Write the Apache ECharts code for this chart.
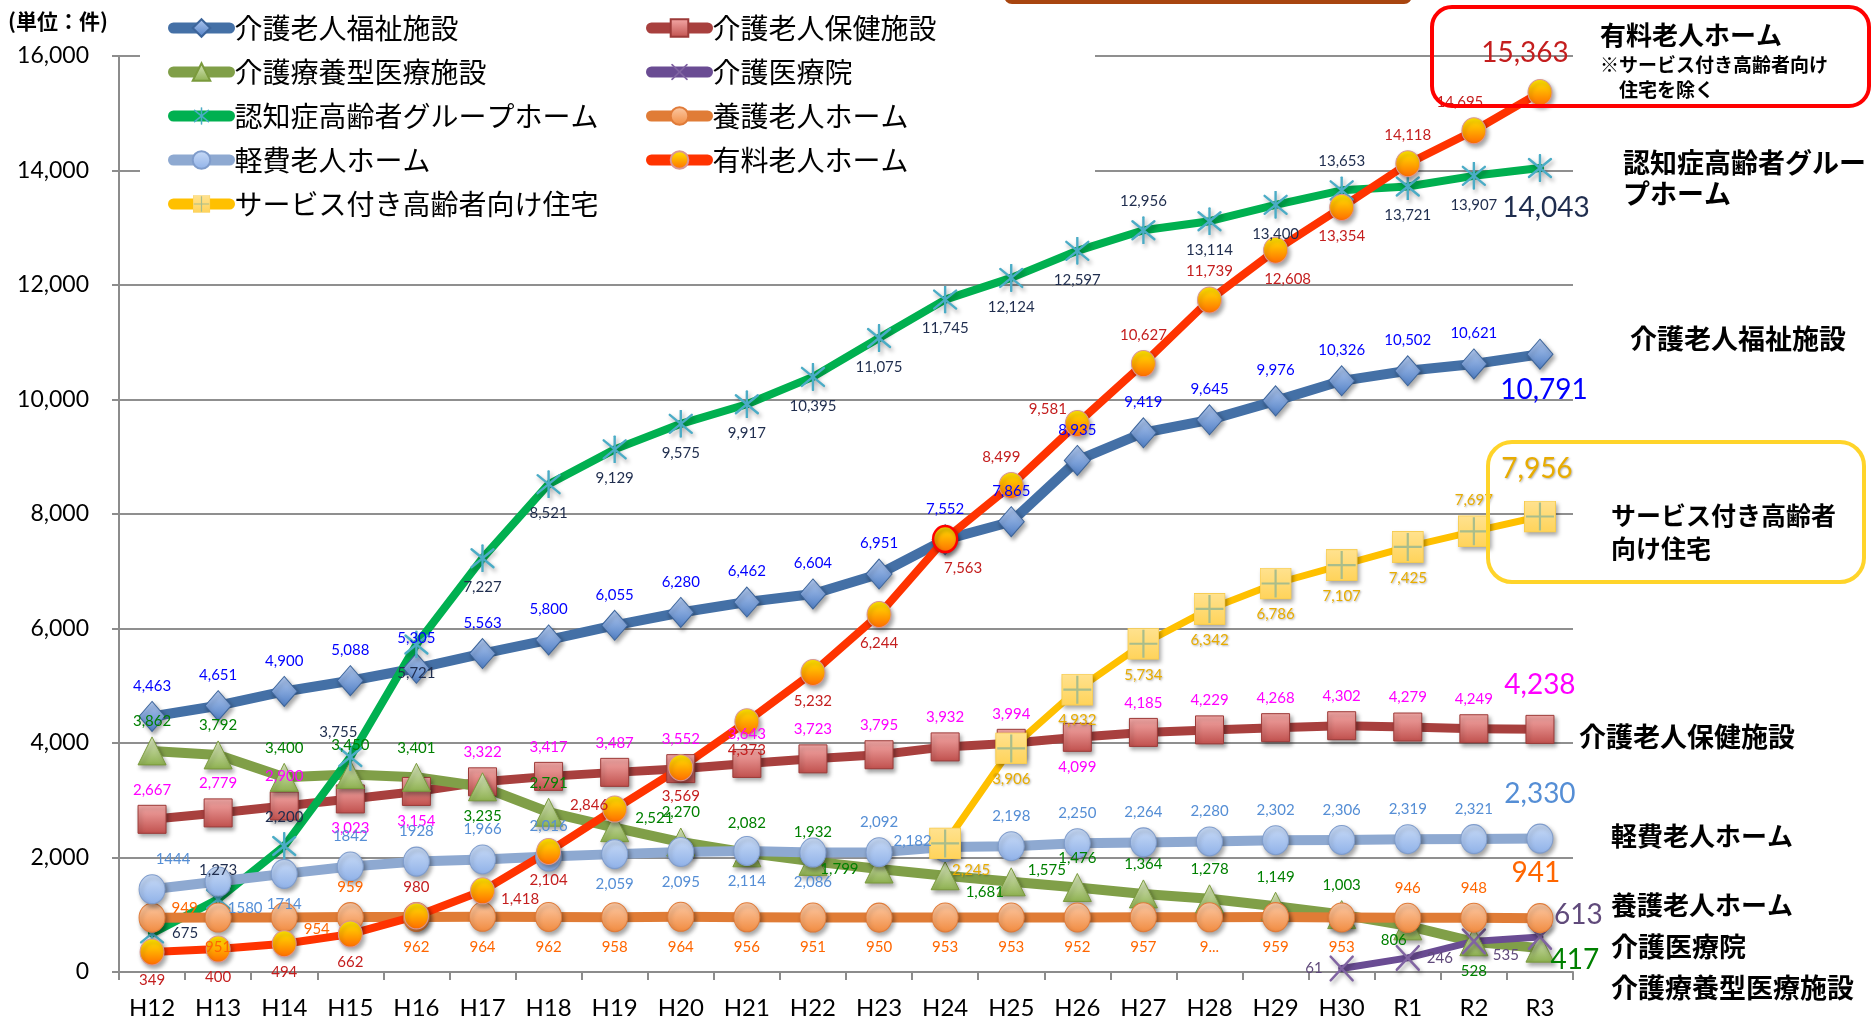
<!DOCTYPE html>
<html>
<head>
<meta charset="utf-8">
<script src="https://cdn.jsdelivr.net/npm/echarts@6/dist/echarts.min.js"></script>
<style>
  html, body { margin: 0; padding: 0; background: #ffffff; }
  #chart { width: 1873px; height: 1026px; }
</style>
</head>
<body>
<div id="chart"></div>
<script>
// ---- data (件) ----
const years = ['H12','H13','H14','H15','H16','H17','H18','H19','H20','H21','H22',
               'H23','H24','H25','H26','H27','H28','H29','H30','R1','R2','R3'];

const yTicks = [0, 2000, 4000, 6000, 8000, 10000, 12000, 14000, 16000];

// 介護老人福祉施設
const fukushi = [4463, 4651, 4900, 5088, 5305, 5563, 5800, 6055, 6280, 6462, 6604,
                 6951, 7552, 7865, 8935, 9419, 9645, 9976, 10326, 10502, 10621, 10791];
// 介護老人保健施設
const roken = [2667, 2779, 2900, 3023, 3154, 3322, 3417, 3487, 3552, 3643, 3723,
               3795, 3932, 3994, 4099, 4185, 4229, 4268, 4302, 4279, 4249, 4238];
// 介護療養型医療施設
const ryoyo = [3862, 3792, 3400, 3450, 3401, 3235, 2791, 2521, 2270, 2082, 1932,
               1799, 1681, 1575, 1476, 1364, 1278, 1149, 1003, 806, 528, 417];
// 介護医療院
const iryoin = [null, null, null, null, null, null, null, null, null, null, null,
                null, null, null, null, null, null, null, 61, 246, 535, 613];
// 認知症高齢者グループホーム
const groupHome = [675, 1273, 2200, 3755, 5721, 7227, 8521, 9129, 9575, 9917, 10395,
                   11075, 11745, 12124, 12597, 12956, 13114, 13400, 13653, 13721, 13907, 14043];
// 養護老人ホーム
const yogo = [949, 951, 954, 959, 962, 964, 962, 958, 964, 956, 951,
              950, 953, 953, 952, 957, 955, 959, 953, 946, 948, 941];
// 軽費老人ホーム
const keihi = [1444, 1580, 1714, 1842, 1928, 1966, 2016, 2059, 2095, 2114, 2086,
               2092, 2182, 2198, 2250, 2264, 2280, 2302, 2306, 2319, 2321, 2330];
// 有料老人ホーム
const yuryo = [349, 400, 494, 662, 980, 1418, 2104, 2846, 3569, 4373, 5232,
               6244, 7563, 8499, 9581, 10627, 11739, 12608, 13354, 14118, 14695, 15363];
// サービス付き高齢者向け住宅
const sakoju = [null, null, null, null, null, null, null, null, null, null, null,
                null, 2245, 3906, 4932, 5734, 6342, 6786, 7107, 7425, 7697, 7956];

// ---- label placement per point: T=top B=bottom L=left R=right ----
const POS = { T: 'top', B: 'bottom', L: 'left', R: 'right' };
const labelPlace = {
  fukushi: 'TTTTTTTTTTTTTTTTTTTTTB',
  roken:   'TTTBBTTTTTTTTTBTTTTTTT',
  ryoyo:   'TTTTTBTRTTTLRRTTTTTBBR',
  iryoin:  '------------------LRRR',
  gh:      'RTTTBBBBBBBBBBBTBBTBBB',
  yogo:    'RBRTBBBBBBBBBBBBBBBTTT',
  keihi:   'TBBTTTTBBBBTLTTTTTTTTT',
  yuryo:   'BBBBTRBLBBBBBTLTTBBTTT',
  sakoju:  '------------BBBBBBBBTT'
};
// small nudges [dx, dy] in px
const labelShift = {
  fukushi: { 21: [4, -6] },
  roken:   { 21: [0, -4] },
  ryoyo:   { 7: [0, -10], 12: [0, 16], 13: [-4, -12], 19: [-14, -15], 21: [-13, 12] },
  iryoin:  { 20: [0, 14], 21: [-8, -22] },
  gh:      { 3: [-12, 4], 21: [6, 0] },
  yogo:    { 0: [0, -10], 2: [0, 12], 21: [-4, -4] },
  keihi:   { 0: [21, 0], 1: [27, -3], 12: [6, -6], 21: [0, -4] },
  yuryo:   { 5: [0, 8], 7: [12, -4], 12: [18, 0], 13: [-10, 0], 14: [8, -14], 17: [12, 0], 20: [-14, 0], 21: [-15, 0] },
  sakoju:  { 12: [26, -4], 21: [-3, -6] }
};

const fmt = v => v.toLocaleString('en-US');
// a few label texts are printed differently in the source table
const labelText = {
  keihi: i => (i <= 4 ? String(keihi[i]) : null),
  yogo: i => (i === 16 ? '9...' : null)
};

function vgrad(top, bottom) {
  return new echarts.graphic.LinearGradient(0, 0, 0, 1, [
    { offset: 0, color: top }, { offset: 1, color: bottom }
  ]);
}
function svgSymbol(svg) {
  return 'image://data:image/svg+xml;charset=utf-8,' + encodeURIComponent(svg);
}
const ELLIPSE = 'path://M0,5a5,5 0 1,0 10,0a5,5 0 1,0 -10,0z';
const ASTERISK = svgSymbol(
  '<svg xmlns="http://www.w3.org/2000/svg" width="28" height="28" viewBox="0 0 28 28">' +
  '<g stroke="#4BACC6" stroke-width="2.4" stroke-linecap="round">' +
  '<line x1="14" y1="1" x2="14" y2="27"/><line x1="3" y1="5" x2="25" y2="23"/>' +
  '<line x1="25" y1="5" x2="3" y2="23"/></g></svg>');
const XMARK = svgSymbol(
  '<svg xmlns="http://www.w3.org/2000/svg" width="26" height="26" viewBox="0 0 26 26">' +
  '<g stroke="#8064A2" stroke-width="2.4" stroke-linecap="round">' +
  '<line x1="2" y1="2" x2="24" y2="24"/><line x1="24" y1="2" x2="2" y2="24"/></g></svg>');
const PLUSBOX = svgSymbol(
  '<svg xmlns="http://www.w3.org/2000/svg" width="32" height="32" viewBox="0 0 32 32">' +
  '<defs><linearGradient id="g" x1="0" y1="0" x2="0" y2="1">' +
  '<stop offset="0" stop-color="#FFE28F"/><stop offset="1" stop-color="#FFD35A"/></linearGradient></defs>' +
  '<rect x="0.5" y="0.5" width="31" height="31" fill="url(#g)" stroke="#F6CB4E"/>' +
  '<path d="M16 2V30M2 16H30" stroke="#A9BD8B" stroke-width="2.2"/></svg>');

const markerShadow = { shadowColor: 'rgba(0,0,0,0.35)', shadowBlur: 4, shadowOffsetX: 2, shadowOffsetY: 3 };

const seriesDefs = [
  { key: 'fukushi', name: '介護老人福祉施設', values: fukushi, line: '#4470A6', width: 10,
    symbol: 'diamond', size: [26, 30], fill: vgrad('#B3CAF0', '#4F7EC4'), border: '#3C649A', text: '#0000FF' },
  { key: 'roken', name: '介護老人保健施設', values: roken, line: '#A8403E', width: 9,
    symbol: 'rect', size: [28, 28], fill: vgrad('#F5ABA9', '#C0504D'), border: '#9C3A38', text: '#FF00FF' },
  { key: 'ryoyo', name: '介護療養型医療施設', values: ryoyo, line: '#809F48', width: 10,
    symbol: 'triangle', size: [28, 28], fill: vgrad('#DCE8C4', '#8DB04F'), border: '#7A9A3C', text: '#008000' },
  { key: 'iryoin', name: '介護医療院', values: iryoin, line: '#6A4C93', width: 7,
    symbol: XMARK, size: [26, 28], fill: '#8064A2', border: null, text: '#604A7B' },
  { key: 'gh', name: '認知症高齢者グループホーム', values: groupHome, line: '#00B050', width: 8,
    symbol: ASTERISK, size: [28, 28], fill: '#4BACC6', border: null, text: '#1F2D4E' },
  { key: 'yogo', name: '養護老人ホーム', values: yogo, line: '#E07C36', width: 10,
    symbol: ELLIPSE, size: [26, 29], fill: vgrad('#FCCBA8', '#F18B40'), border: '#E07B39', text: '#FF6600' },
  { key: 'keihi', name: '軽費老人ホーム', values: keihi, line: '#8EA9D1', width: 10,
    symbol: ELLIPSE, size: [26, 29], fill: vgrad('#CADCF7', '#8FB1E8'), border: '#7F9CCB', text: '#558ED5' },
  { key: 'yuryo', name: '有料老人ホーム', values: yuryo, line: '#FF3300', width: 8,
    symbol: ELLIPSE, size: [24, 26], fill: vgrad('#FFEA00', '#FF6A00'), border: '#D99694', text: '#C41E1E' },
  { key: 'sakoju', name: 'サービス付き高齢者向け住宅', values: sakoju, line: '#FFC000', width: 7,
    symbol: PLUSBOX, size: [32, 32], fill: '#FFD966', border: null, text: '#E8AC00', shadowText: true }
];

// Move a label by [dx, dy]. Along the placement direction the shift goes into
// `distance`; sideways it is done with padding (horizontal) or with a
// top-anchored text block plus top padding (vertical).
function placeLabel(label, pos, shift, base, lineH) {
  const dx = shift ? shift[0] : 0;
  const dy = shift ? shift[1] : 0;
  const pad = [0, 0, 0, 0];
  let distance = base;
  if (pos === 'top' || pos === 'bottom') {
    distance = pos === 'top' ? base - dy : base + dy;
    if (dx > 0) pad[3] = 2 * dx; else if (dx < 0) pad[1] = -2 * dx;
  } else {
    distance = pos === 'right' ? base + dx : base - dx;
    if (dy !== 0) {
      label.verticalAlign = 'top';
      pad[0] = dy - lineH / 2;
    }
  }
  label.position = pos;
  label.distance = distance;
  label.lineHeight = lineH;
  label.padding = pad;
}

function buildData(def) {
  const place = labelPlace[def.key];
  const shifts = labelShift[def.key] || {};
  const last = def.values.length - 1;
  return def.values.map((v, i) => {
    if (v === null) return '-';
    const custom = labelText[def.key] ? labelText[def.key](i) : null;
    const label = { formatter: custom !== null ? custom : fmt(v) };
    const isLast = i === last;
    placeLabel(label, POS[place[i]], shifts[i], isLast ? 9 : 6, isLast ? 34 : 18);
    if (isLast) label.fontSize = 28;
    const item = { value: v, label: label };
    if (def.key === 'yuryo' && i === 12) {
      item.itemStyle = { borderColor: '#FF0000', borderWidth: 2.5 };
    }
    return item;
  });
}

const series = seriesDefs.map(def => ({
  name: def.name,
  type: 'line',
  data: buildData(def),
  symbol: def.symbol,
  symbolSize: def.size,
  showAllSymbol: true,
  connectNulls: false,
  lineStyle: { color: def.line, width: def.width, cap: 'round', join: 'round' },
  itemStyle: Object.assign({
    color: def.fill,
    borderColor: def.border || def.line,
    borderWidth: def.border ? 1 : 0
  }, markerShadow),
  label: {
    show: true,
    fontFamily: 'Lato, "Noto Sans", sans-serif',
    fontSize: 15,
    color: def.text,
    textShadowColor: def.shadowText ? 'rgba(0,0,0,0.3)' : 'transparent',
    textShadowBlur: def.shadowText ? 2 : 0,
    textShadowOffsetX: def.shadowText ? 1 : 0,
    textShadowOffsetY: def.shadowText ? 1 : 0
  },
  labelLayout: { hideOverlap: false },
  emphasis: { disabled: true },
  animation: false
}));

const legendText = { fontFamily: '"Noto Sans CJK JP", sans-serif', fontSize: 28, color: '#000' };
const legendCommon = {
  orient: 'vertical', selectedMode: false, itemWidth: 56, itemHeight: 22, itemGap: 16,
  padding: 0, textStyle: legendText, z: 5,
  lineStyle: { width: 11, cap: 'round' }
};

// bold captions on the right side of the plot
const captionFont = size => 'bold ' + size + 'px "Noto Sans CJK JP", sans-serif';
const captionShadow = { shadowColor: 'rgba(0,0,0,0.35)', shadowBlur: 3, shadowOffsetX: 2, shadowOffsetY: 2 };
const captions = [
  ['有料老人ホーム', 1600, 35, 26],
  ['※サービス付き高齢者向け', 1600, 65, 19],
  ['住宅を除く', 1619, 90, 19],
  ['認知症高齢者グルー', 1623, 163, 27],
  ['プホーム', 1623, 194, 27],
  ['介護老人福祉施設', 1630, 339, 27],
  ['サービス付き高齢者', 1611, 515, 25],
  ['向け住宅', 1611, 548, 25],
  ['介護老人保健施設', 1579, 737, 27],
  ['軽費老人ホーム', 1611, 836, 26],
  ['養護老人ホーム', 1611, 905, 26],
  ['介護医療院', 1611, 947, 27],
  ['介護療養型医療施設', 1611, 988, 27]
];

const graphics = [
  // white panel behind the legend
  { type: 'rect', z: 1, silent: true, shape: { x: 140, y: 0, width: 955, height: 240 },
    style: { fill: '#ffffff' } },
  // frame edge at the top
  { type: 'rect', z: 10, silent: true, shape: { x: 1006, y: -30, width: 404, height: 32, r: 6 },
    style: { fill: 'none', stroke: '#A8450F', lineWidth: 4 } },
  // callout frames
  { type: 'rect', z: 10, silent: true, shape: { x: 1432, y: 7, width: 437, height: 99, r: 20 },
    style: { fill: 'none', stroke: '#FF0000', lineWidth: 4 } },
  { type: 'rect', z: 10, silent: true, shape: { x: 1488, y: 442, width: 376, height: 140, r: 24 },
    style: { fill: 'none', stroke: '#FFD42A', lineWidth: 4 } },
  { type: 'text', z: 10, silent: true, left: 8, top: 11,
    style: { text: '(単位：件)', font: 'bold 21px "Noto Sans CJK JP", sans-serif', fill: '#000' } }
].concat(captions.map(c => ({
  type: 'text', z: 10, silent: true, x: c[1], y: c[2],
  style: Object.assign({ text: c[0], font: captionFont(c[3]), fill: '#000',
    textVerticalAlign: 'middle', verticalAlign: 'middle' }, captionShadow)
})));

const chart = echarts.init(document.getElementById('chart'), null, { renderer: 'canvas' });
chart.setOption({
  animation: false,
  backgroundColor: '#ffffff',
  grid: { left: 119, right: 300, top: 56, bottom: 54, containLabel: false },
  legend: [
    Object.assign({}, legendCommon, { left: 168, top: 14,
      data: ['介護老人福祉施設', '介護療養型医療施設', '認知症高齢者グループホーム', '軽費老人ホーム', 'サービス付き高齢者向け住宅'] }),
    Object.assign({}, legendCommon, { left: 646, top: 14,
      data: ['介護老人保健施設', '介護医療院', '養護老人ホーム', '有料老人ホーム'] })
  ],
  xAxis: {
    type: 'category',
    data: years,
    boundaryGap: true,
    axisLine: { show: true, lineStyle: { color: '#8C8C8C', width: 2 } },
    axisTick: { show: true, length: 8, lineStyle: { color: '#8C8C8C', width: 2 } },
    axisLabel: { color: '#000', fontFamily: 'Lato, sans-serif', fontSize: 24, margin: 24 },
    splitLine: { show: false }
  },
  yAxis: {
    type: 'value',
    min: yTicks[0],
    max: yTicks[yTicks.length - 1],
    interval: yTicks[1] - yTicks[0],
    axisLine: { show: true, lineStyle: { color: '#8C8C8C', width: 2 } },
    axisTick: { show: true, length: 7, lineStyle: { color: '#8C8C8C', width: 2 } },
    axisLabel: { color: '#000', fontFamily: 'Lato, sans-serif', fontSize: 23, margin: 30,
      formatter: v => fmt(v) },
    splitLine: { show: true, lineStyle: { color: '#8F8F8F', width: 2 } }
  },
  series: series,
  graphic: graphics
});
</script>
</body>
</html>
